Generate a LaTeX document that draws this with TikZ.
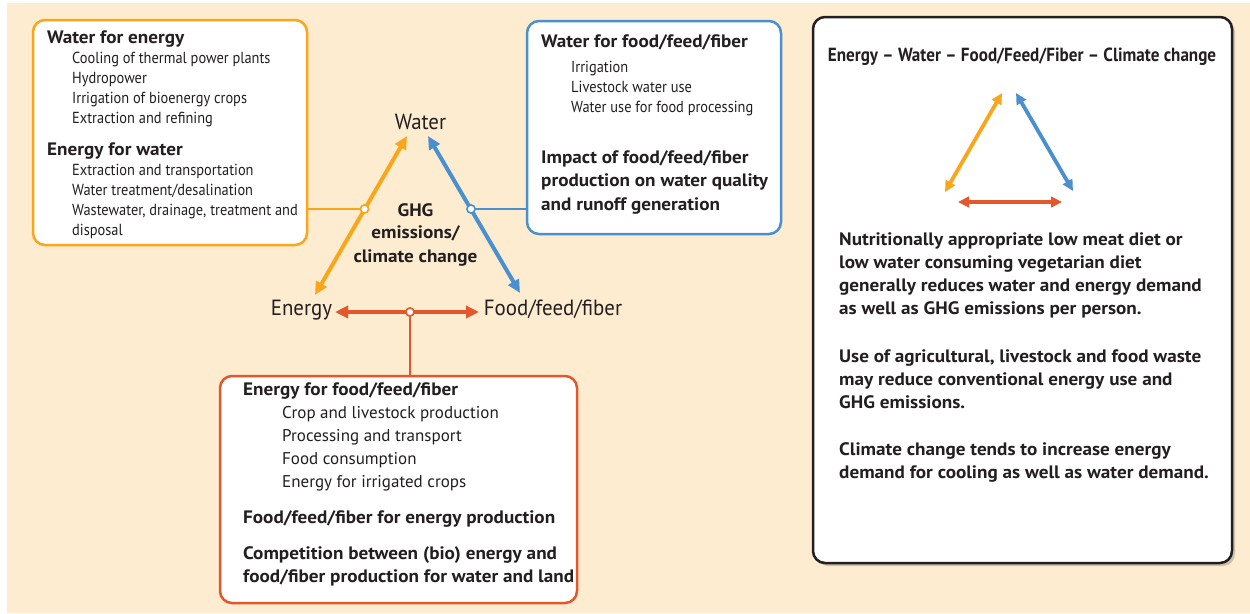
\documentclass[tikz,border=0pt]{standalone}
\usepackage{fontspec}
\setmainfont{PT Sans}[BoldFeatures={FakeStretch=1.065}]
\newfontfamily\cnd{PT Sans}[FakeStretch=0.9]
\newfontfamily\trif{PT Sans}[FakeStretch=0.95]
\usetikzlibrary{arrows.meta,shadows}
\definecolor{bg}{RGB}{253,236,208}
\definecolor{orng}{RGB}{250,166,26}
\definecolor{blu}{RGB}{74,144,206}
\definecolor{rd}{RGB}{228,87,44}
\definecolor{ink}{RGB}{35,31,32}
\begin{document}
\begin{tikzpicture}[x=1pt,y=-1pt,
  box/.style={draw=#1, fill=white, rounded corners=12pt, line width=2.5pt, inner sep=0pt},
  big/.style={line width=4pt, #1, {Triangle[length=13pt,width=12pt]}-{Triangle[length=13pt,width=12pt]}},
  small/.style={line width=3.8pt, #1, {Triangle[length=11pt,width=10.5pt]}-{Triangle[length=11pt,width=10.5pt]}},
  jn/.style={circle, draw=#1, fill=white, line width=1.5pt, inner sep=0pt, minimum size=8pt},
  conn/.style={draw=#1, line width=2pt},
  hd/.style={inner sep=0pt, anchor=base west, text=ink, font=\fontsize{18}{21}\selectfont\bfseries},
  it/.style={inner sep=0pt, anchor=base west, text=ink, font=\fontsize{16}{19}\cnd},
  itr/.style={inner sep=0pt, anchor=base west, text=ink, font=\fontsize{17}{20}\selectfont},
  rt/.style={inner sep=0pt, anchor=base west, text=ink, font=\fontsize{18}{21}\selectfont\bfseries},
  tri/.style={inner sep=0pt, anchor=base, text=ink, font=\fontsize{22}{26}\trif},
  ghg/.style={inner sep=0pt, anchor=base, text=ink, font=\fontsize{18}{21}\selectfont\bfseries},
  ttl/.style={inner sep=0pt, anchor=base, text=ink, font=\fontsize{19}{22}\cnd\bfseries}
]
\useasboundingbox (0,0) rectangle (1250,613);
\fill[white] (0,0) rectangle (1250,613);
\fill[bg] (7,3) rectangle (1250,613);

% boxes
\node[box=orng, minimum width=274pt, minimum height=225pt] (ob) at (170,132.5) {};
\node[box=blu, minimum width=254pt, minimum height=213pt] (bb) at (654,127.5) {};
\node[box=rd, minimum width=357pt, minimum height=227pt] (rb) at (398.5,489.5) {};
\node[box=ink, minimum width=419pt, minimum height=546pt,
  drop shadow={shadow xshift=3pt, shadow yshift=-3pt, opacity=0.18, fill=black}] (kb) at (1022.5,290) {};

% triangle labels
\node[tri] (w) at (420.5,129) {Water};
\node[tri] (e) at (301.5,315) {Energy};
\node[tri] (f) at (553,315) {Food/feed/fiber};
\foreach \t/\yy [count=\i] in {GHG/216, emissions\slash/238, climate change/262}
  \node[ghg] (g\i) at (415.5,\yy) {\t};

% arrow end coordinates
\coordinate (eo1) at (315,295); \coordinate (eo2) at (407,136);
\coordinate (eb1) at (428,136); \coordinate (eb2) at (520,293);
\coordinate (er1) at (335,312); \coordinate (er2) at (479,312);

% connectors to boxes
\node[jn=orng] (jo) at (364.5,209) {};
\node[jn=blu] (jb) at (471,209) {};
\node[jn=rd] (jr) at (410,312) {};
\draw[conn=orng] (ob.east |- jo) -- (jo);
\draw[conn=blu] (jb) -- (bb.west |- jb);
\draw[conn=rd] (jr) -- (jr |- rb.north);

% main arrows
\draw[big=orng] (eo1) -- (eo2);
\draw[big=blu] (eb1) -- (eb2);
\draw[big=rd] (er1) -- (er2);
\node[jn=orng] at (jo) {};
\node[jn=blu] at (jb) {};
\node[jn=rd] at (jr) {};

% orange box text
\node[hd] (oh1) at (47,43) {Water for energy};
\foreach \t [count=\i] in {Cooling of thermal power plants, Hydropower, Irrigation of bioenergy crops, Extraction and refining}
  \node[it] (oi\i) at (72,{63+20.2*(\i-1)}) {\t};
\node[hd] (oh2) at (47,155) {Energy for water};
\foreach \t [count=\i] in {Extraction and transportation, Water treatment/desalination, {Wastewater, drainage, treatment and}, disposal}
  \node[it] (oj\i) at (72,{175+20*(\i-1)}) {\t};

% blue box text
\node[hd] (bh1) at (541,47) {Water for food/feed/fiber};
\foreach \t [count=\i] in {Irrigation, Livestock water use, Water use for food processing}
  \node[it] (bi\i) at (571,{72+20*(\i-1)}) {\t};
\foreach \t [count=\i] in {Impact of food/feed/fiber, production on water quality, and runoff generation}
  \node[hd] (bj\i) at (541,{163+23.5*(\i-1)}) {\t};

% red box text
\node[hd] (rh1) at (243,395) {Energy for food/feed/fiber};
\foreach \t [count=\i] in {Crop and livestock production, Processing and transport, Food consumption, Energy for irrigated crops}
  \node[itr] (ri\i) at (282,{418+23.3*(\i-1)}) {\t};
\node[hd] (rh2) at (243,523) {Food/feed/fiber for energy production};
\node[hd] (rh3) at (243,559) {Competition between (bio) energy and};
\node[hd] (rh4) at (243,582) {food/fiber production for water and land};

% right box
\node[ttl] (kt) at (1022,61) {Energy – Water – Food/Feed/Fiber – Climate change};
\coordinate (ko1) at (945,192); \coordinate (ko2) at (1002,93);
\coordinate (kb1) at (1016,93); \coordinate (kb2) at (1073,191);
\coordinate (kr1) at (958,202); \coordinate (kr2) at (1062,202);
\draw[small=orng] (ko1) -- (ko2);
\draw[small=blu] (kb1) -- (kb2);
\draw[small=rd] (kr1) -- (kr2);
\foreach \t [count=\i] in {Nutritionally appropriate low meat diet or, low water consuming vegetarian diet, generally reduces water and energy demand, as well as GHG emissions per person.}
  \node[rt] (kp\i) at (839,{245+23.3*(\i-1)}) {\t};
\foreach \t [count=\i] in {{Use of agricultural, livestock and food waste}, may reduce conventional energy use and, GHG emissions.}
  \node[rt] (kq\i) at (839,{362+23*(\i-1)}) {\t};
\foreach \t [count=\i] in {Climate change tends to increase energy, demand for cooling as well as water demand.}
  \node[rt] (ks\i) at (839,{455+23*(\i-1)}) {\t};
\end{tikzpicture}
\end{document}
